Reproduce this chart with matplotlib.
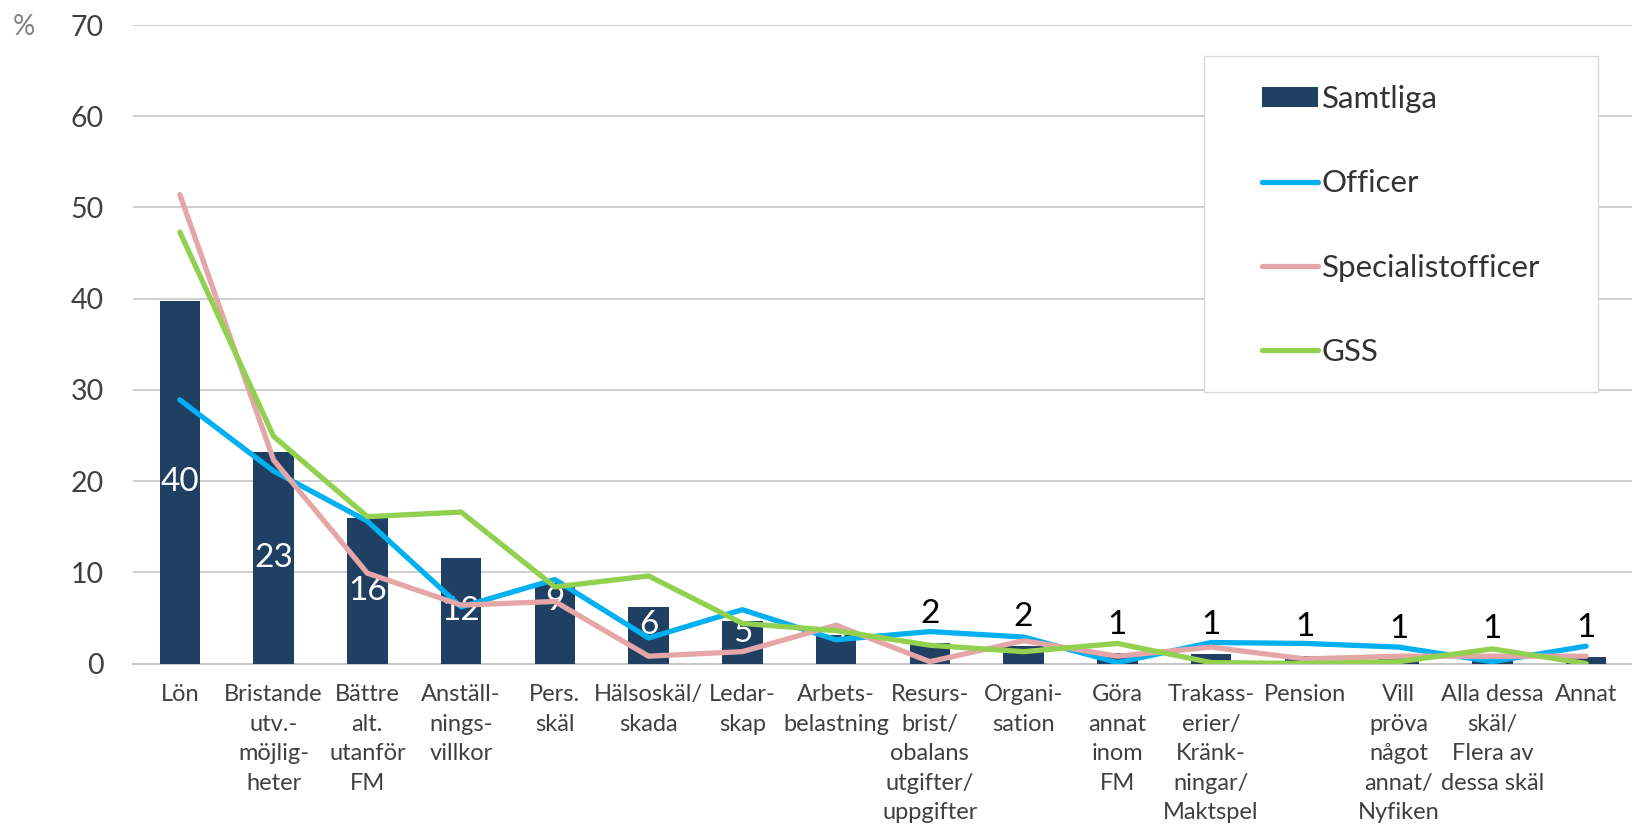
import matplotlib
matplotlib.use("Agg")
import matplotlib.pyplot as plt
from matplotlib.patches import Rectangle, Patch
from matplotlib.lines import Line2D
import numpy as np

plt.rcParams["font.family"] = ["Lato", "DejaVu Sans"]

categories = [
    "Lön",
    "Bristande\nutv.-\nmöjlig-\nheter",
    "Bättre\nalt.\nutanför\nFM",
    "Anställ-\nnings-\nvillkor",
    "Pers.\nskäl",
    "Hälsoskäl/\nskada",
    "Ledar-\nskap",
    "Arbets-\nbelastning",
    "Resurs-\nbrist/\nobalans\nutgifter/\nuppgifter",
    "Organi-\nsation",
    "Göra\nannat\ninom\nFM",
    "Trakass-\nerier/\nKränk-\nningar/\nMaktspel",
    "Pension",
    "Vill\npröva\nnågot\nannat/\nNyfiken",
    "Alla dessa\nskäl/\nFlera av\ndessa skäl",
    "Annat",
]

samtliga = [39.7, 23.2, 15.9, 11.6, 8.8, 6.2, 4.7, 3.1, 2.3, 1.9, 1.1, 1.0, 0.8, 0.6, 0.6, 0.7]
officer = [28.9, 21.1, 15.6, 6.2, 9.2, 2.8, 5.9, 2.6, 3.5, 2.9, 0.1, 2.3, 2.2, 1.8, 0.2, 1.9]
specialistofficer = [51.4, 22.3, 9.9, 6.4, 6.8, 0.8, 1.3, 4.2, 0.2, 2.5, 0.8, 1.8, 0.5, 0.8, 0.8, 0.8]
gss = [47.3, 24.9, 16.1, 16.6, 8.4, 9.6, 4.4, 3.6, 2.0, 1.3, 2.2, 0.1, 0.0, 0.2, 1.6, 0.0]

series_names = ["Samtliga", "Officer", "Specialistofficer", "GSS"]
yticks = [0, 10, 20, 30, 40, 50, 60, 70]

NAVY = "#1F3F63"
BLUE = "#00B0F0"
PINK = "#E4A6A6"
GREEN = "#92D050"
GRID = "#C6C6C6"
TEXT = "#404040"

W, H = 1633, 826
fig = plt.figure(figsize=(W / 100, H / 100), dpi=100)
fig.patch.set_facecolor("white")

left, right, top, bottom = 133, 1633, 25, 663.5
ax = fig.add_axes([left / W, 1 - bottom / H, (right - left) / W, (bottom - top) / H])

x = np.arange(len(categories))
ax.bar(x, samtliga, width=0.43, color=NAVY, zorder=2)

line_kw = dict(lw=3.8, solid_capstyle="round", solid_joinstyle="round")
ax.plot(x, officer, color=BLUE, zorder=4, **line_kw)
ax.plot(x, specialistofficer, color=PINK, zorder=4, **line_kw)
ax.plot(x, gss, color=GREEN, zorder=4, **line_kw)

# value labels: white inside tall bars, black above short ones
for xi, v in zip(x, samtliga):
    label = f"{v:.0f}"
    if v >= 2.5:
        yl = v / 2 if v >= 10 else max(v - 2.0, 3.3)
        ax.text(xi, yl, label, ha="center", va="center", color="white",
                fontsize=24, zorder=3)
    else:
        ax.annotate(label, xy=(xi, v), xytext=(0, 10), textcoords="offset points",
                    ha="center", va="bottom", color="black", fontsize=24, zorder=5)

ax.set_xlim(-0.5, len(categories) - 0.5)
ax.set_ylim(0, 70)
ax.set_yticks(yticks)
ax.yaxis.grid(True, color=GRID, lw=1.2, zorder=0)
ax.set_axisbelow(True)
ax.axhline(0, color=GRID, lw=1.5, zorder=1, clip_on=False)
for s in ax.spines.values():
    s.set_visible(False)

ax.tick_params(axis="y", length=0, pad=21, labelsize=20.5, labelcolor=TEXT)
ax.set_xticks(x)
ax.set_xticklabels(categories, fontsize=17, color=TEXT, linespacing=1.5)
ax.tick_params(axis="x", length=0, pad=15)

fig.text(24 / W, 1 - 27 / H, "%", ha="center", va="center", fontsize=20, color="#808080")

# legend box
fig.patches.append(Rectangle((1204 / W, 1 - 392 / H), (1598 - 1204) / W, (392 - 56) / H,
                             transform=fig.transFigure, facecolor="white",
                             edgecolor="#D9D9D9", lw=1.0, zorder=1))
handles = [
    Patch(facecolor=NAVY, edgecolor="none"),
    Line2D([], [], color=BLUE, **line_kw),
    Line2D([], [], color=PINK, **line_kw),
    Line2D([], [], color=GREEN, **line_kw),
]
fig.legend(handles, series_names, loc="upper left",
           bbox_to_anchor=(1262 / W, 1 - 85 / H), bbox_transform=fig.transFigure,
           frameon=False, fontsize=22.5, handlelength=1.8, handletextpad=0.12,
           handleheight=0.6, labelspacing=1.8, borderpad=0, borderaxespad=0,
           labelcolor="#333333")

fig.savefig("out.png", dpi=100, facecolor="white")
